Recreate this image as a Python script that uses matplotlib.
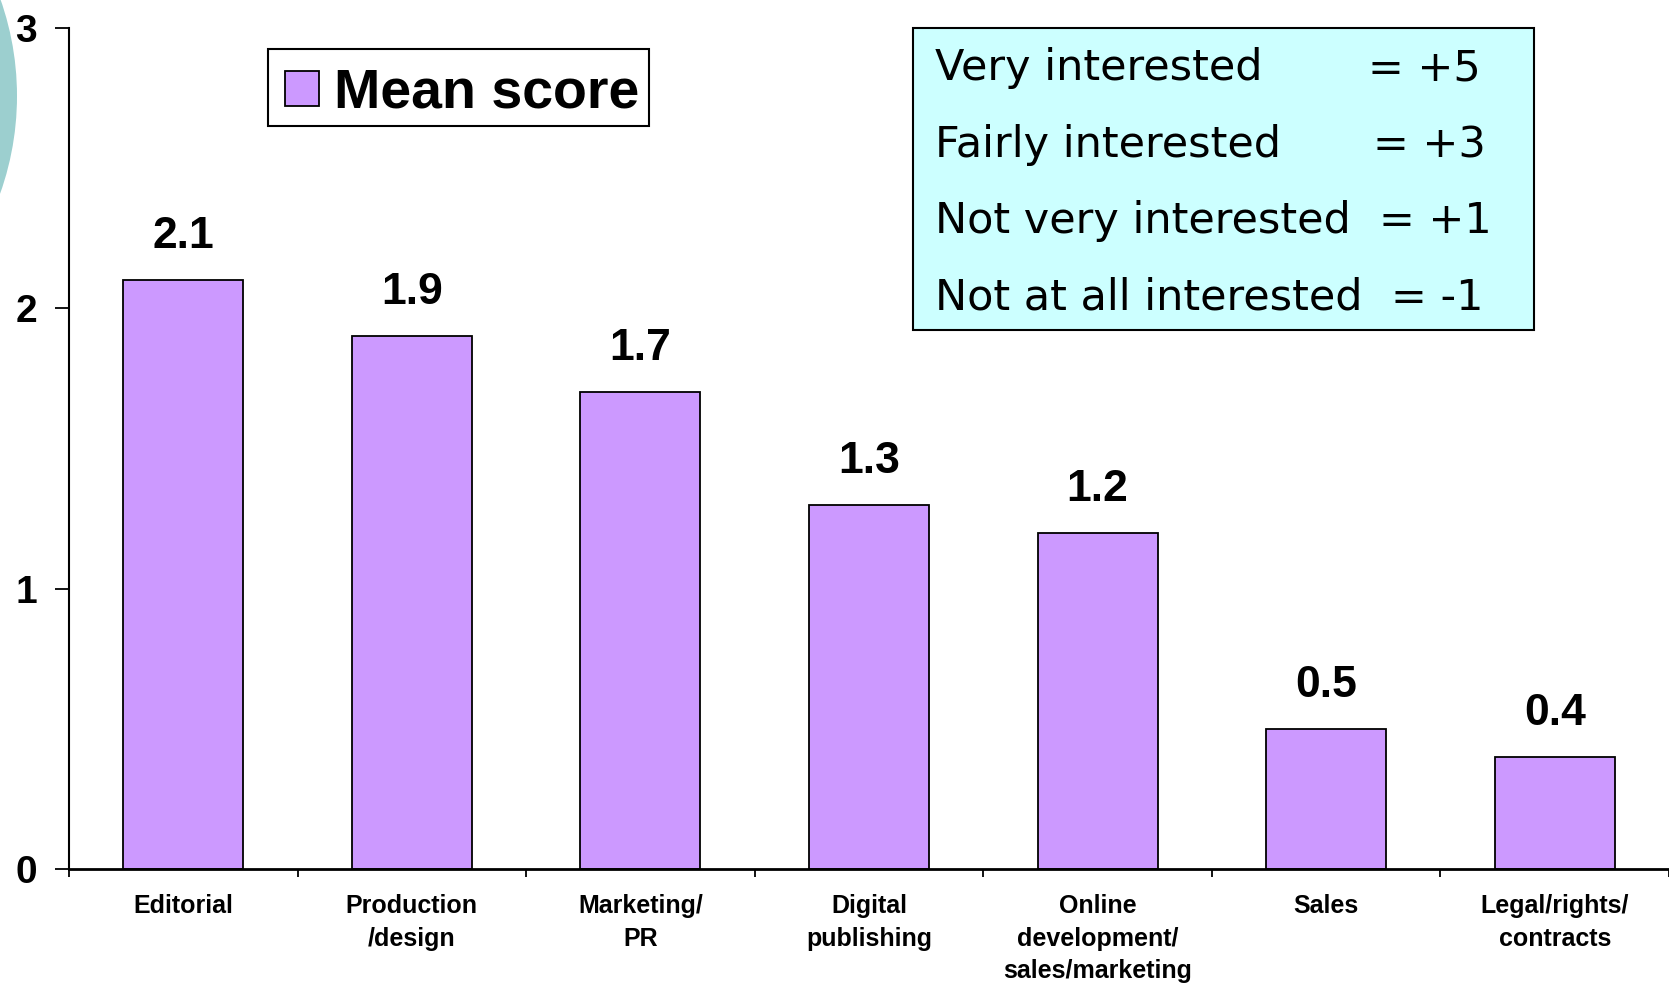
import matplotlib
matplotlib.use('Agg')
import matplotlib.pyplot as plt
from matplotlib.patches import Patch, Rectangle, Circle

# Mean interest score by department
categories = ['Editorial', 'Production\n/design', 'Marketing/\nPR', 'Digital\npublishing',
              'Online\ndevelopment/\nsales/marketing', 'Sales', 'Legal/rights/\ncontracts']
mean_scores = [2.1, 1.9, 1.7, 1.3, 1.2, 0.5, 0.4]
y_ticks = [0, 1, 2, 3]
series_name = 'Mean score'

# Scoring key shown in the box
scale_labels = ['Very interested', 'Fairly interested', 'Not very interested', 'Not at all interested']
scale_values = ['+5', '+3', '+1', '-1']

W, H = 1669, 983
bar_color = '#CC99FF'
bold = dict(family='Liberation Sans', weight='bold')

fig = plt.figure(figsize=(W / 100, H / 100), dpi=100)

# teal disc peeking in from the left edge
fig.add_artist(Circle((-2.74, (H - 96) / 100), 2.91, transform=fig.dpi_scale_trans,
                      facecolor='#9CCFCF', edgecolor='none', zorder=0))

ax = fig.add_axes([69 / W, 1 - 869 / H, 1 - 69 / W, (869 - 28) / H])

x = range(len(categories))
ax.bar(x, mean_scores, width=0.525, color=bar_color, edgecolor='black', linewidth=1.3, zorder=2)
for i, v in enumerate(mean_scores):
    ax.annotate(f'{v:.1f}', (i, v), xytext=(0, 23), textcoords='offset points',
                ha='center', va='baseline', fontsize=32, **bold)

ax.set_xlim(-0.5, len(categories) - 0.5)
ax.set_ylim(0, 3)
ax.set_yticks(y_ticks)
ax.set_yticklabels([str(t) for t in y_ticks], fontsize=28, **bold)
ax.set_xticks(list(x))
ax.set_xticklabels(categories, fontsize=18, linespacing=1.45, **bold)
ax.set_xticks([i - 0.5 for i in range(len(categories) + 1)], minor=True)

ax.tick_params(axis='x', which='major', length=0, pad=18)
ax.tick_params(axis='x', which='minor', length=6, width=1.3, direction='out')
ax.tick_params(axis='y', which='major', length=10, width=1.3, pad=13)

for side in ['top', 'right']:
    ax.spines[side].set_visible(False)
ax.spines['left'].set_linewidth(1.5)
ax.spines['bottom'].set_linewidth(2)

# legend with its own frame
fig.add_artist(Rectangle((268 / W, 1 - 126 / H), 381 / W, 77 / H, transform=fig.transFigure,
                         facecolor='white', edgecolor='black', linewidth=1.5, zorder=3))
leg = fig.legend(handles=[Patch(facecolor=bar_color, edgecolor='black', linewidth=1.3, label=series_name)],
                 loc='upper left', bbox_to_anchor=(285 / W, 1 - 68 / H), bbox_transform=fig.transFigure,
                 prop=dict(family='Liberation Sans', weight='bold', size=40),
                 frameon=False, borderpad=0, handlelength=0.61, handleheight=0.61,
                 handletextpad=0.27, borderaxespad=0)
leg.set_zorder(5)

# scoring key box
fig.add_artist(Rectangle((913 / W, 1 - 330 / H), 621 / W, 302 / H, transform=fig.transFigure,
                         facecolor='#CCFFFF', edgecolor='black', linewidth=1.5, zorder=3))
baselines = [80, 157, 233, 310]
eq_x = [1368, 1373, 1379, 1391]
for label, val, yb, xe in zip(scale_labels, scale_values, baselines, eq_x):
    fig.text(935 / W, 1 - yb / H, label, fontsize=31, family='DejaVu Sans',
             va='baseline', ha='left', zorder=4)
    fig.text(xe / W, 1 - yb / H, f'= {val}', fontsize=31, family='DejaVu Sans',
             va='baseline', ha='left', zorder=4)

fig.savefig('out.png', dpi=100)
